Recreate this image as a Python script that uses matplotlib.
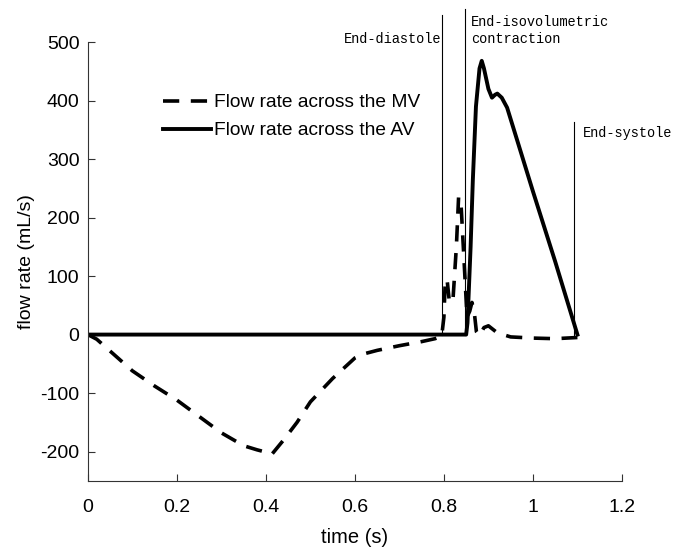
import matplotlib.pyplot as plt

plt.rcParams["axes.unicode_minus"] = False

# flow rate across the mitral valve (dashed)
mv_t = [0.0, 0.02, 0.06, 0.1, 0.15, 0.2, 0.25, 0.3, 0.35, 0.38, 0.40, 0.413,
        0.44, 0.47, 0.50, 0.55, 0.60, 0.62, 0.65, 0.70, 0.75, 0.78, 0.795,
        0.80, 0.803, 0.807, 0.812, 0.82, 0.828, 0.833, 0.838, 0.845, 0.852,
        0.858, 0.863, 0.868, 0.873, 0.88, 0.89, 0.90, 0.92, 0.95, 1.0, 1.05, 1.1]
mv_q = [0, -8, -35, -62, -88, -112, -140, -168, -190, -197, -201, -205,
        -180, -150, -115, -75, -40, -33, -27, -19, -12, -7, -3,
        30, 92, 95, 58, 55, 150, 235, 230, 130, 30,
        40, 55, 40, 5, -2, 12, 15, 3, -4, -6, -7, -5]

# flow rate across the aortic valve (solid)
av_t = [0.0, 0.85, 0.853, 0.86, 0.865, 0.872, 0.88, 0.885, 0.89, 0.90,
        0.908, 0.915, 0.92, 0.93, 0.942, 1.0, 1.05, 1.1]
av_q = [0, 0, 20, 150, 264, 390, 455, 468, 455, 420,
        405, 410, 412, 405, 388, 245, 125, 0]

events = [0.795, 0.848, 1.092]
event_tops = [547, 556, 364]
event_labels = ["End-diastole", "End-isovolumetric\ncontraction", "End-systole"]

fig = plt.figure(figsize=(6.76, 5.47), dpi=100)
ax = fig.add_axes([0.130, 0.121, 0.790, 0.802])

ax.plot(mv_t, mv_q, color="black", lw=2.6, ls=(0, (4.5, 3.2)),
        label="Flow rate across the MV")
ax.plot(av_t, av_q, color="black", lw=2.8, label="Flow rate across the AV")

for x, top in zip(events, event_tops):
    ax.plot([x, x], [0, top], color="black", lw=0.8, clip_on=False)

mono = "Liberation Mono"
ax.text(0.7935, 505, event_labels[0], ha="right", va="center", fontsize=9.8, family=mono)
ax.text(0.861, 520, event_labels[1], ha="left", va="center", fontsize=9.8,
        family=mono, linespacing=1.2)
ax.text(1.113, 344, event_labels[2], ha="left", va="center", fontsize=9.8, family=mono)

ax.set_xlim(0, 1.2)
ax.set_ylim(-250, 500)
ax.set_xticks([0, 0.2, 0.4, 0.6, 0.8, 1.0, 1.2])
ax.set_xticklabels(["0", "0.2", "0.4", "0.6", "0.8", "1", "1.2"])
ax.set_yticks([-200, -100, 0, 100, 200, 300, 400, 500])
ax.tick_params(direction="in", length=5, labelsize=14, color="#333333")
ax.tick_params(axis="x", pad=13)
ax.tick_params(axis="y", pad=6)
for lab in ax.get_xticklabels() + ax.get_yticklabels():
    lab.set_family("Liberation Sans")
ax.spines["top"].set_visible(False)
ax.spines["right"].set_visible(False)
ax.spines["left"].set_color("#333333")
ax.spines["bottom"].set_color("#333333")

ax.set_xlabel("time (s)", fontsize=14.5, family="Liberation Sans", labelpad=9)
ax.set_ylabel("flow rate (mL/s)", fontsize=14, family="Liberation Sans", labelpad=4)

ax.legend(loc="upper left", bbox_to_anchor=(0.109, 0.921), frameon=False,
          prop={"family": "Liberation Sans", "size": 13.8},
          handlelength=2.5, handletextpad=0.15, labelspacing=0.55)

fig.savefig("out.png", dpi=100)
